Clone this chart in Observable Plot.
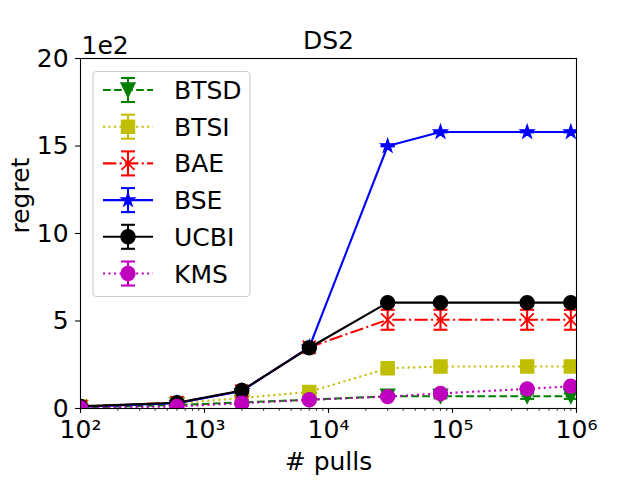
<!DOCTYPE html>
<html>
<head>
<meta charset="utf-8">
<script src="https://cdn.jsdelivr.net/npm/d3@7"></script>
<script src="https://cdn.jsdelivr.net/npm/@observablehq/plot@0.6"></script>
<style>
  html, body { margin: 0; padding: 0; background: #fff; }
  #chart { width: 640px; height: 480px; }
</style>
</head>
<body>
<div id="chart"></div>
<script>
// ---- data (regret in units of 1e2) ----
const pulls = [100, 600, 2000, 7000, 30000, 80000, 400000, 900000];
const seriesNames = ["BTSD", "BTSI", "BAE", "BSE", "UCBI", "KMS"];
const btsd = [0.05, 0.2, 0.35, 0.5, 0.7, 0.7, 0.7, 0.7];
const btsi = [0.12, 0.3, 0.6, 0.95, 2.3, 2.4, 2.4, 2.4];
const bae  = [0.12, 0.33, 1.0, 3.5, 5.07, 5.07, 5.07, 5.07];
const bse  = [0.1, 0.3, 1.0, 3.5, 15.0, 15.8, 15.8, 15.8];
const ucbi = [0.12, 0.33, 1.03, 3.47, 6.05, 6.05, 6.05, 6.05];
const kms  = [0.03, 0.12, 0.3, 0.5, 0.68, 0.86, 1.12, 1.27];
const btsdErr = [0.02, 0.05, 0.05, 0.05, 0.12, 0.12, 0.15, 0.15];
const btsiErr = [0.02, 0.05, 0.05, 0.05, 0.05, 0.05, 0.05, 0.05];
const baeErr  = [0.05, 0.05, 0.1, 0.1, 0.57, 0.57, 0.57, 0.57];
const bseErr  = [0.02, 0.02, 0.02, 0.02, 0.02, 0.02, 0.02, 0.02];
const ucbiErr = [0.02, 0.02, 0.02, 0.02, 0.02, 0.02, 0.02, 0.02];
const kmsErr  = [0.02, 0.02, 0.02, 0.02, 0.02, 0.02, 0.02, 0.02];
const yTicks = [0, 5, 10, 15, 20];
const xTicks = [1e2, 1e3, 1e4, 1e5, 1e6];
const xTickLabels = ["10²", "10³", "10⁴", "10⁵", "10⁶"];

const FS = 25;

// ---- symbols ----
const R = 7;
const sym = {
  triDown: { draw(c) { c.moveTo(0, R); c.lineTo(-R, -R); c.lineTo(R, -R); c.closePath(); } },
  square: { draw(c) { const h = 6.5; c.moveTo(-h, -h); c.lineTo(h, -h); c.lineTo(h, h); c.lineTo(-h, h); c.closePath(); } },
  cross: { draw(c) { const h = 6.5; c.moveTo(-h, -h); c.lineTo(h, h); c.moveTo(-h, h); c.lineTo(h, -h); } },
  star: { draw(c) {
    const ri = R * 0.381966;
    for (let i = 0; i < 10; i++) {
      const r = i % 2 ? ri : R;
      const a = -Math.PI / 2 + i * Math.PI / 5;
      const x = r * Math.cos(a), y = r * Math.sin(a);
      if (i === 0) c.moveTo(x, y); else c.lineTo(x, y);
    }
    c.closePath();
  } },
  circle: { draw(c) { c.moveTo(R, 0); c.arc(0, 0, R, 0, 2 * Math.PI); c.closePath(); } },
  cap: { draw(c) { c.moveTo(-7, 0); c.lineTo(7, 0); } }
};

const styles = [
  { name: "BTSD", vals: btsd, err: btsdErr, color: "#008000", dash: "7.7,3.33", sym: sym.triDown, filled: true },
  { name: "BTSI", vals: btsi, err: btsiErr, color: "#bfbf00", dash: "2.08,3.44", sym: sym.square, filled: true },
  { name: "BAE",  vals: bae,  err: baeErr,  color: "#ff0000", dash: "13.3,3.33,2.08,3.33", sym: sym.cross, filled: false },
  { name: "BSE",  vals: bse,  err: bseErr,  color: "#0000ff", dash: null, sym: sym.star, filled: true },
  { name: "UCBI", vals: ucbi, err: ucbiErr, color: "#000000", dash: null, sym: sym.circle, filled: true },
  { name: "KMS",  vals: kms,  err: kmsErr,  color: "#bf00bf", dash: "2.08,3.44", sym: sym.circle, filled: true }
];

const seriesMarks = [];
for (const s of styles) {
  const rows = pulls.map((x, i) => ({ x, y: s.vals[i], e: s.err[i] }));
  seriesMarks.push(Plot.line(rows, { x: "x", y: "y", stroke: s.color, strokeWidth: 2.08, strokeDasharray: s.dash || undefined, strokeLinecap: "butt", clip: true }));
  seriesMarks.push(Plot.ruleX(rows, { x: "x", y1: d => d.y - d.e, y2: d => d.y + d.e, stroke: s.color, strokeWidth: 2.08, clip: true }));
  seriesMarks.push(Plot.dot(rows, { x: "x", y: d => d.y - d.e, symbol: sym.cap, r: 7, stroke: s.color, strokeWidth: 2.08, fill: "none", clip: true }));
  seriesMarks.push(Plot.dot(rows, { x: "x", y: d => d.y + d.e, symbol: sym.cap, r: 7, stroke: s.color, strokeWidth: 2.08, fill: "none", clip: true }));
  seriesMarks.push(Plot.dot(rows, { x: "x", y: "y", symbol: s.sym, r: 7, fill: s.filled ? s.color : "none", stroke: s.color, strokeWidth: s.filled ? 1.39 : 1.8, clip: true }));
}

const minor = [];
for (let d = 100; d < 1e6; d *= 10) for (let k = 2; k <= 9; k++) minor.push(d * k);

const chart = Plot.plot({
  width: 640,
  height: 480,
  marginLeft: 80,
  marginRight: 64,
  marginTop: 58,
  marginBottom: 72,
  style: { fontFamily: "DejaVu Sans", fontSize: FS + "px", background: "#fff", color: "#000" },
  x: { type: "log", domain: [100, 1e6] },
  y: { domain: [0, 20] },
  marks: [
    ...seriesMarks,
    Plot.frame({ stroke: "#000", strokeWidth: 1.1 }),
    Plot.axisY({ ticks: yTicks, tickSize: 4.9, tickPadding: 7, fontSize: FS, label: null, strokeWidth: 1.1 }),
    Plot.axisX({ ticks: minor, tickSize: 2.8, tickFormat: () => "", label: null, strokeWidth: 0.8 }),
    Plot.axisX({ ticks: xTicks, tickSize: 4.9, tickPadding: 7, fontSize: FS, label: null, strokeWidth: 1.1,
                 tickFormat: d => xTickLabels[xTicks.indexOf(d)] }),
    Plot.text(["DS2"], { frameAnchor: "top", dy: -10, lineAnchor: "bottom", fontSize: FS }),
    Plot.text(["1e2"], { frameAnchor: "top-left", dx: 1, dy: -5, lineAnchor: "bottom", textAnchor: "start", fontSize: FS }),
    Plot.text(["# pulls"], { frameAnchor: "bottom", dy: 61, lineAnchor: "bottom", fontSize: FS }),
    Plot.text(["regret"], { frameAnchor: "left", dx: -52, rotate: -90, lineAnchor: "bottom", fontSize: FS })
  ]
});
document.getElementById("chart").appendChild(chart);

// ---- legend (drawn into the same svg) ----
const svg = d3.select(chart);
const lg = svg.append("g").attr("font-family", "DejaVu Sans").attr("font-size", FS).attr("text-anchor", "start");
lg.append("rect").attr("x", 93).attr("y", 71.5).attr("width", 157).attr("height", 225)
  .attr("rx", 4).attr("fill", "#fff").attr("fill-opacity", 0.8).attr("stroke", "#cccccc").attr("stroke-width", 1.1);
styles.forEach((s, i) => {
  const cy = 90 + i * 36.7;
  const g = lg.append("g");
  g.append("line").attr("x1", 103).attr("x2", 153).attr("y1", cy).attr("y2", cy)
    .attr("stroke", s.color).attr("stroke-width", 2.08).attr("stroke-dasharray", s.dash || null);
  g.append("line").attr("x1", 128).attr("x2", 128).attr("y1", cy - 12).attr("y2", cy + 12)
    .attr("stroke", s.color).attr("stroke-width", 2.08);
  [cy - 12, cy + 12].forEach(yy => g.append("line").attr("x1", 121).attr("x2", 135).attr("y1", yy).attr("y2", yy)
    .attr("stroke", s.color).attr("stroke-width", 2.08));
  const p = d3.path();
  s.sym.draw(p);
  g.append("path").attr("d", p.toString()).attr("transform", `translate(128,${cy})`)
    .attr("fill", s.filled ? s.color : "none").attr("stroke", s.color).attr("stroke-width", s.filled ? 1.39 : 1.8);
  g.append("text").attr("x", 174).attr("y", cy).attr("dy", "0.36em").attr("text-anchor", "start").attr("fill", "#000").text(s.name);
});
</script>
</body>
</html>
